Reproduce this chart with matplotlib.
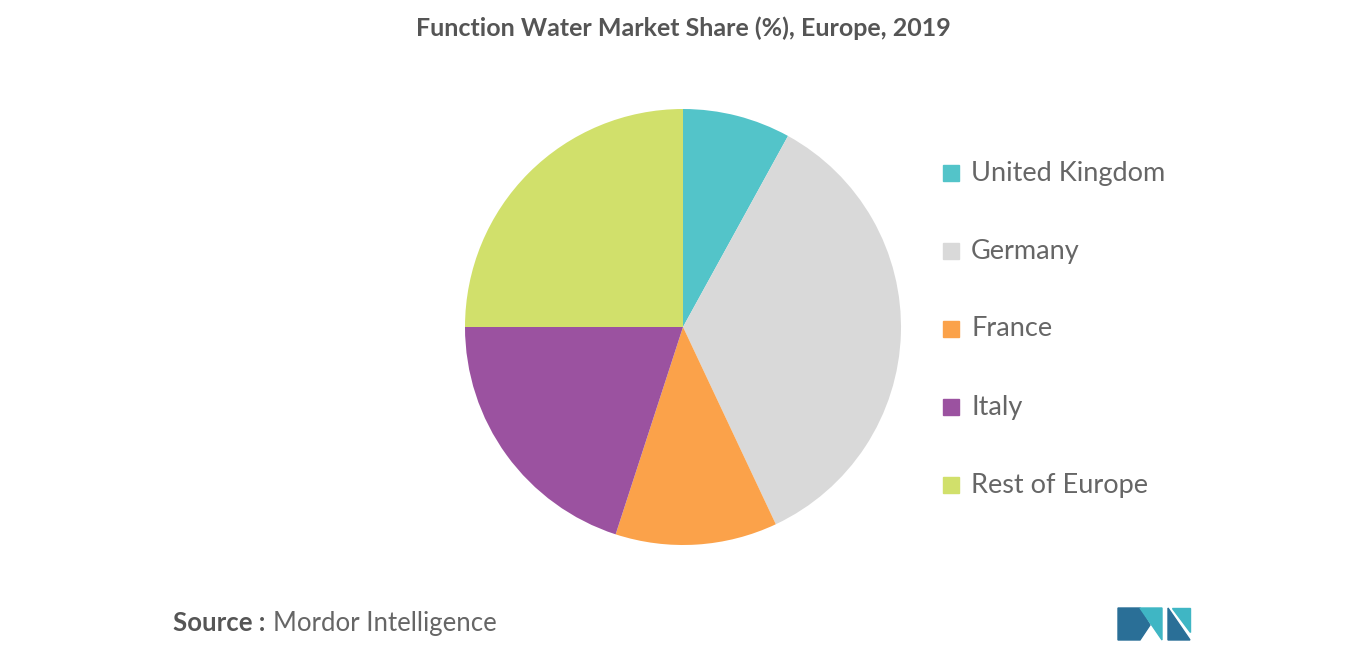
import matplotlib.pyplot as plt
from matplotlib.patches import Polygon

labels = ["United Kingdom", "Germany", "France", "Italy", "Rest of Europe"]
shares = [8, 35, 12, 20, 25]
colors = ["#53c4c9", "#d9d9d9", "#fba24a", "#9b52a0", "#d1e06b"]

fig = plt.figure(figsize=(13.66, 6.55), dpi=100)
fig.patch.set_facecolor("white")

ax = fig.add_axes([683/1366 - 218/1366, 1 - (327+218)/655, 436/1366, 436/655])
ax.pie(shares, colors=colors, startangle=90, counterclock=False,
       wedgeprops=dict(linewidth=0))
ax.set_xlim(-1, 1)
ax.set_ylim(-1, 1)
ax.set_aspect("equal")

fig.text(0.5, 1 - 28/655, "Function Water Market Share (%), Europe, 2019",
         ha="center", va="center", fontsize=18, color="#555555", fontweight="bold",
         family="Lato")

for i, (lab, c) in enumerate(zip(labels, colors)):
    y = 1 - (173 + i*78)/655
    fig.patches.append(plt.Rectangle((943/1366, y - 8/655), 16/1366, 16/655,
                                     transform=fig.transFigure, color=c))
    fig.text(971/1366, y, lab, va="center", ha="left", fontsize=19.5,
             color="#666666", family="Lato")

fig.text(173/1366, 1 - 623/655, "Source :", va="center", fontsize=18.5,
         color="#555555", fontweight="bold", family="Lato")
fig.text(273/1366, 1 - 623/655, "Mordor Intelligence", va="center", fontsize=18.5,
         color="#666666", family="Lato")

# logo
def px(pts):
    return [(x/1366, 1 - y/655) for x, y in pts]
fig.patches.append(Polygon(px([(1118, 640), (1118, 608), (1140, 608), (1150, 625), (1140, 640)]),
                           closed=True, transform=fig.transFigure, color="#2a6f97"))
fig.patches.append(Polygon(px([(1140, 608), (1162, 640), (1162, 608)]),
                           closed=True, transform=fig.transFigure, color="#3fb6c4"))
fig.patches.append(Polygon(px([(1168, 640), (1168, 608), (1190, 640)]),
                           closed=True, transform=fig.transFigure, color="#2a6f97"))
fig.patches.append(Polygon(px([(1172, 608), (1190, 608), (1190, 632)]),
                           closed=True, transform=fig.transFigure, color="#3fb6c4"))

fig.savefig("out.png", dpi=100, facecolor="white")
